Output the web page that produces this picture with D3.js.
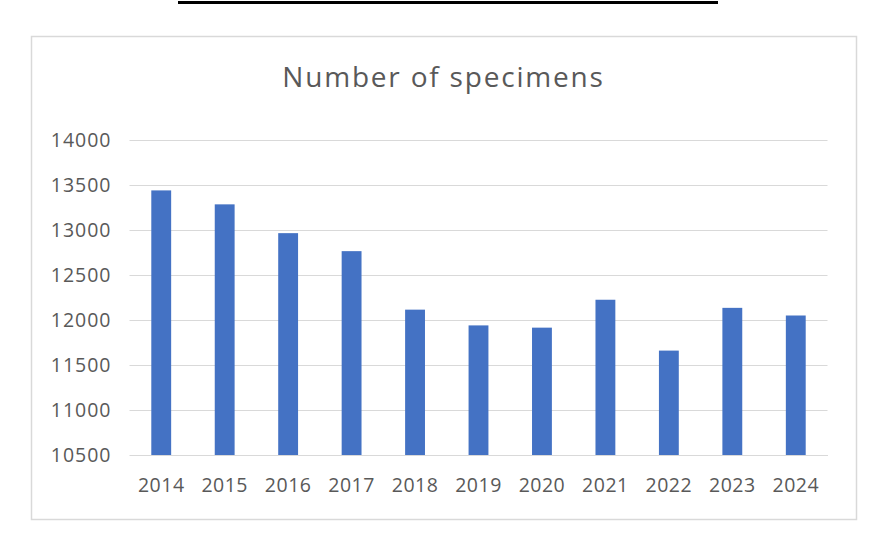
<!DOCTYPE html>
<html><head><meta charset="utf-8">
<script src="https://cdn.jsdelivr.net/npm/d3@7"></script>
<style>body{margin:0;background:#fff;} svg{display:block;}</style>
</head><body>
<script>
const years = ["2014","2015","2016","2017","2018","2019","2020","2021","2022","2023","2024"];
const specimens = [13440, 13285, 12965, 12765, 12115, 11940, 11915, 12225, 11660, 12135, 12050];
const yTicks = [10500, 11000, 11500, 12000, 12500, 13000, 13500, 14000];
const title = "Number of specimens";

const W = 890, H = 552;
const svg = d3.select("body").append("svg").attr("width", W).attr("height", H);
svg.append("rect").attr("width", W).attr("height", H).attr("fill", "#fff");

// top black rule
svg.append("rect").attr("x", 178).attr("y", 1).attr("width", 540).attr("height", 3).attr("fill", "#000");

// chart frame
svg.append("rect").attr("x", 31.5).attr("y", 36.5).attr("width", 825).attr("height", 483)
  .attr("fill", "#fff").attr("stroke", "#d9d9d9").attr("stroke-width", 1.5);

const font = "'Open Sans', Calibri, sans-serif";
svg.append("text").attr("x", 443.5).attr("y", 87).attr("text-anchor", "middle")
  .attr("font-family", font).attr("font-size", 28).attr("fill", "#595959")
  .attr("letter-spacing", 1.8).text(title);

const x = d3.scaleBand().domain(years).range([129.5, 827.5]).paddingInner(0.687).paddingOuter(0.3435);
const y = d3.scaleLinear().domain([10500, 14000]).range([455, 140]);

// gridlines
const yAxis = d3.axisLeft(y).tickValues(yTicks).tickSize(-(827.5 - 129.5)).tickPadding(18).tickFormat(d3.format("d"));
const gy = svg.append("g").attr("transform", "translate(129.5,0)").call(yAxis);
gy.select(".domain").remove();
gy.selectAll(".tick line").attr("stroke", "#d9d9d9").attr("stroke-width", 1.2);
gy.selectAll(".tick text").attr("font-family", font).attr("font-size", 19.5).attr("fill", "#595959")
  .attr("letter-spacing", 1).attr("x", -18);

svg.append("g").selectAll("rect").data(years).join("rect")
  .attr("x", d => x(d)).attr("width", x.bandwidth())
  .attr("y", (d, i) => y(specimens[i])).attr("height", (d, i) => y(10500) - y(specimens[i]))
  .attr("fill", "#4472C4");

const xAxis = d3.axisBottom(x).tickSize(0).tickPadding(23);
const gx = svg.append("g").attr("transform", "translate(0,455)").call(xAxis);
gx.select(".domain").attr("stroke", "#d9d9d9").attr("stroke-width", 1.2);
gx.selectAll(".tick text").attr("font-family", font).attr("font-size", 19.5).attr("fill", "#595959")
  .attr("letter-spacing", 0.5);
</script>
</body></html>
